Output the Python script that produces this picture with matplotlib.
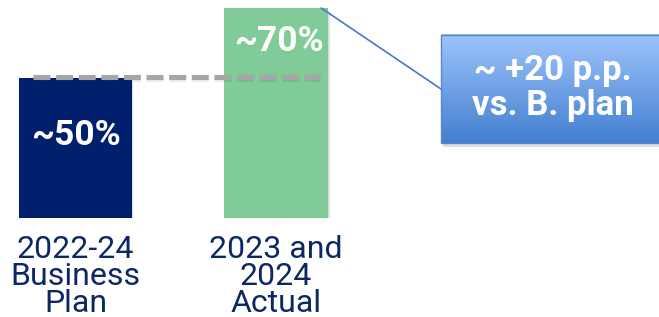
import matplotlib.pyplot as plt
import matplotlib.patheffects as pe
from matplotlib.patches import Rectangle, ConnectionPatch
import numpy as np

plt.rcParams['font.family'] = ['Roboto', 'DejaVu Sans']

# values
categories = ['2022-24\nBusiness\nPlan', '2023 and\n2024\nActual']
heights = [50, 75]
bar_labels = ['~50%', '~70%']
plan_level = 50
callout_text = '~ +20 p.p.\nvs. B. plan'

bar_colours = ['#00206e', '#80cb97']
bar_widths = [0.56, 0.52]
navy = '#0d2764'

fig = plt.figure(figsize=(6.59, 3.17), dpi=100)
ax = fig.add_axes([0, 99 / 317, 1, 210 / 317])

x = np.arange(len(categories))
bars = ax.bar(x, heights, width=bar_widths, color=bar_colours, zorder=2)
for b in bars:
    b.set_path_effects([pe.SimplePatchShadow(offset=(1, -2), alpha=0.15), pe.Normal()])

ax.set_xlim(-0.3766, 2.91)
ax.set_ylim(0, 75)

# business plan reference line across both bars
ax.plot([x[0] - 0.21, x[1] + 0.22], [plan_level + 0.4, plan_level + 0.4],
        color='#a6a6a6', lw=3.7, dashes=(3.3, 1.1), dash_capstyle='butt',
        solid_capstyle='butt', zorder=3,
        path_effects=[pe.SimpleLineShadow(offset=(0, -1.5), alpha=0.07), pe.Normal()])

# labels inside the bars
ax.text(x[0], 29.6, bar_labels[0], ha='center', va='center', color='white',
        fontsize=25.5, fontweight='bold', zorder=4)
ax.text(x[1] + 0.015, 62.9, bar_labels[1], ha='center', va='center', color='white',
        fontsize=25.5, fontweight='bold', zorder=4)

ax.set_xticks(x, categories)
ax.tick_params(axis='x', length=0, pad=12, labelsize=23, labelcolor=navy)
for t in ax.get_xticklabels():
    t.set_linespacing(0.93)
ax.set_yticks([])
for s in ax.spines.values():
    s.set_visible(False)
ax.patch.set_alpha(0)

# callout box with vertical gradient
ov = fig.add_axes([0, 0, 1, 1], zorder=5)
ov.set_xlim(0, 1)
ov.set_ylim(0, 1)
ov.axis('off')
ov.patch.set_alpha(0)
bx0, bx1 = 441 / 659, 1.02
by0, by1 = 1 - 143 / 317, 1 - 35 / 317
shadow = Rectangle((bx0 + 0.003, by0 - 0.012), bx1 - bx0, by1 - by0,
                   facecolor='black', alpha=0.12, edgecolor='none')
ov.add_patch(shadow)
top_c = np.array([0x9e, 0xc4, 0xfb]) / 255
bot_c = np.array([0x42, 0x7f, 0xcf]) / 255
t = np.linspace(0, 1, 100)[:, None]
grad = (top_c * (1 - t) + bot_c * t)[:, None, :]
ov.imshow(grad, extent=(bx0, bx1, by0, by1), aspect='auto', origin='upper', zorder=2)
ov.add_patch(Rectangle((bx0, by0), bx1 - bx0, by1 - by0, facecolor='none',
                       edgecolor='#5b86c6', lw=1, zorder=3))
ov.text(553 / 659, 1 - 88 / 317, callout_text, ha='center', va='center',
        color='white', fontsize=25, fontweight='bold', linespacing=1.1, zorder=4)

con = ConnectionPatch(xyA=(x[1] + 0.225, heights[1]), coordsA=ax.transData,
                      xyB=(bx0, (by0 + by1) / 2), coordsB=ov.transData,
                      color='#4a78c2', lw=1.2, zorder=1)
fig.add_artist(con)

fig.savefig('out.png', dpi=100)
